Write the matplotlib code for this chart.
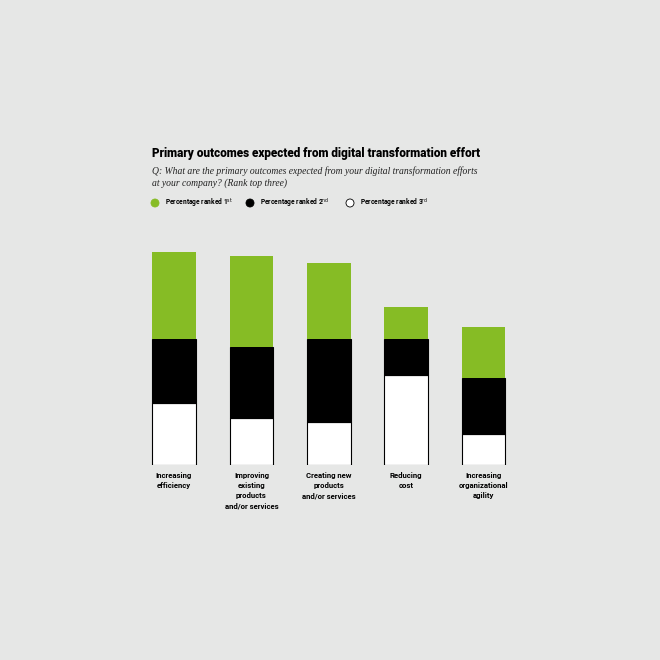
import numpy as np
import matplotlib.pyplot as plt

categories = ["Increasing\nefficiency",
              "Improving\nexisting\nproducts\nand/or services",
              "Creating new\nproducts\nand/or services",
              "Reducing\ncost",
              "Increasing\norganizational\nagility"]
ranked_3rd = [17.9, 13.4, 12.3, 25.8, 8.9]
ranked_2nd = [18.2, 20.5, 23.9, 10.4, 16.1]
ranked_1st = [24.9, 26.0, 21.5, 9.0, 14.6]

bg = "#e6e7e6"
green = "#86bc25"
sans = ["Roboto", "DejaVu Sans"]

fig = plt.figure(figsize=(6.6, 6.6), dpi=100, facecolor=bg)
ax = fig.add_axes([140 / 660, 1 - 465.3 / 660, 380 / 660, 225.3 / 660])
ax.set_facecolor(bg)

x = np.arange(len(categories))
w = 0.562
third = np.array(ranked_3rd)
second = np.array(ranked_2nd)
first = np.array(ranked_1st)
ax.bar(x, third, w, color="white", edgecolor="black", linewidth=0.8)
ax.bar(x, second, w, bottom=third, color="black", edgecolor="black", linewidth=0.8)
ax.bar(x, first, w, bottom=third + second, color=green, linewidth=0)

ax.set_xlim((140 - 174) / 77.4, (520 - 174) / 77.4)
ax.set_ylim(0, 225.3 / 3.5)
ax.axis("off")

for xi, lab in zip(x, categories):
    ax.text(xi, -2.0, lab, ha="center", va="top", fontsize=5.6,
            fontweight="bold", linespacing=1.5, family=sans)

fig.text(152 / 660, 1 - 153 / 660,
         "Primary outcomes expected from digital transformation effort",
         fontsize=8.5, fontweight="black", family=sans,
         va="center", ha="left")
fig.text(152 / 660, 1 - 177 / 660,
         "Q: What are the primary outcomes expected from your digital transformation efforts\nat your company? (Rank top three)",
         fontsize=6.9, style="italic", family="Liberation Serif",
         va="center", ha="left", linespacing=1.3, color="#222222")

legend_x = [155, 250, 350]
legend_lab = ["Percentage ranked 1$^{\\rm st}$", "Percentage ranked 2$^{\\rm nd}$",
              "Percentage ranked 3$^{\\rm rd}$"]
legend_col = [green, "black", "white"]
for lx, ll, lc in zip(legend_x, legend_lab, legend_col):
    fig.patches.append(plt.Circle((lx / 660, 1 - 203 / 660), 4 / 660, color=lc,
                                  ec="black" if lc == "white" else lc, lw=0.6,
                                  transform=fig.transFigure, figure=fig))
    fig.text((lx + 10) / 660, 1 - 203 / 660, ll, fontsize=4.8, fontweight="bold",
             family=sans, va="center", ha="left")

fig.savefig("out.png", dpi=100, facecolor=bg)
